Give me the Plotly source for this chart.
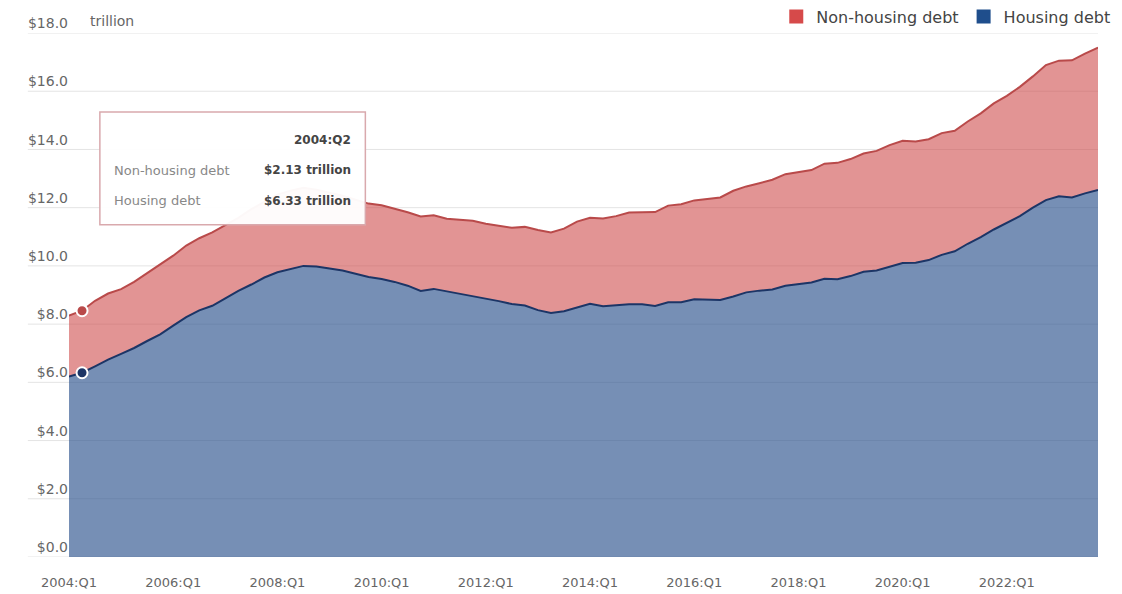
import plotly.graph_objects as go

# ---- data (trillions of dollars) ----
years = list(range(2004, 2024))
quarters = [f"{y}:Q{q}" for y in years for q in range(1, 5)]

housing_debt = [
    6.20, 6.33, 6.55, 6.78,
    6.98, 7.18, 7.42, 7.65,
    7.95, 8.24, 8.47, 8.63,
    8.88, 9.14, 9.36, 9.60,
    9.78, 9.90, 10.00, 9.98,
    9.92, 9.84, 9.73, 9.62,
    9.55, 9.45, 9.32, 9.14,
    9.21, 9.13, 9.03, 8.95,
    8.87, 8.79, 8.69, 8.64,
    8.48, 8.38, 8.44, 8.58,
    8.70, 8.61, 8.65, 8.68,
    8.68, 8.62, 8.75, 8.75,
    8.85, 8.84, 8.83, 8.95,
    9.09, 9.15, 9.19, 9.32,
    9.38, 9.43, 9.56, 9.54,
    9.65, 9.80, 9.84, 9.96,
    10.10, 10.11, 10.20, 10.38,
    10.50, 10.76, 10.99, 11.25,
    11.49, 11.71, 12.00, 12.26,
    12.39, 12.35, 12.49, 12.61,
]

non_housing_debt = [
    2.09, 2.13, 2.25, 2.27,
    2.22, 2.27, 2.33, 2.40,
    2.40, 2.46, 2.48, 2.52,
    2.52, 2.51, 2.59, 2.60,
    2.67, 2.68, 2.68, 2.64,
    2.60, 2.57, 2.54, 2.52,
    2.53, 2.52, 2.52, 2.56,
    2.53, 2.49, 2.55, 2.60,
    2.58, 2.59, 2.62, 2.70,
    2.75, 2.77, 2.84, 2.94,
    2.95, 3.02, 3.06, 3.15,
    3.17, 3.23, 3.32, 3.37,
    3.40, 3.45, 3.52, 3.63,
    3.64, 3.69, 3.77, 3.83,
    3.83, 3.86, 3.95, 4.00,
    4.02, 4.06, 4.11, 4.19,
    4.20, 4.16, 4.15, 4.18,
    4.14, 4.20, 4.25, 4.33,
    4.35, 4.44, 4.51, 4.64,
    4.66, 4.71, 4.80, 4.89,
]

y_ticks = [0, 2, 4, 6, 8, 10, 12, 14, 16, 18]
y_tick_text = [f"${v:.1f}" for v in y_ticks]
x_tick_labels = [f"{y}:Q1" for y in range(2004, 2024, 2)]

hover_index = 1  # 2004:Q2 highlighted point

# ---- styles ----
RED_LINE = "#b94a4a"
RED_FILL = "rgba(205,70,70,0.58)"
BLUE_LINE = "#1c3566"
BLUE_FILL = "rgba(40,80,140,0.64)"
RED_KEY = "#d64a4a"
BLUE_KEY = "#1f4e8c"
FONT = "DejaVu Sans, Verdana, sans-serif"

fig = go.Figure()

fig.add_trace(go.Scatter(
    x=quarters, y=housing_debt, name="Housing debt", stackgroup="debt",
    mode="lines", line=dict(color=BLUE_LINE, width=2), fillcolor=BLUE_FILL,
    showlegend=False, hoverinfo="skip"))
fig.add_trace(go.Scatter(
    x=quarters, y=non_housing_debt, name="Non-housing debt", stackgroup="debt",
    mode="lines", line=dict(color=RED_LINE, width=2), fillcolor=RED_FILL,
    showlegend=False, hoverinfo="skip"))

# highlighted markers
total_at_hover = housing_debt[hover_index] + non_housing_debt[hover_index]
fig.add_trace(go.Scatter(
    x=[quarters[hover_index], quarters[hover_index]],
    y=[housing_debt[hover_index], total_at_hover],
    mode="markers", showlegend=False, hoverinfo="skip",
    marker=dict(size=11, color=[BLUE_LINE, RED_LINE],
                line=dict(color="white", width=2))))

# legend keys
fig.add_trace(go.Scatter(x=[None], y=[None], mode="markers", name="Non-housing debt",
                         marker=dict(symbol="square", size=14, color=RED_KEY)))
fig.add_trace(go.Scatter(x=[None], y=[None], mode="markers", name="Housing debt",
                         marker=dict(symbol="square", size=14, color=BLUE_KEY)))

# gridlines extending under the labels
for v in y_ticks:
    fig.add_shape(type="line", xref="paper", yref="y", x0=-0.04, x1=1, y0=v, y1=v,
                  line=dict(color="#e4e4e4", width=1), layer="below")

# tooltip box
fig.add_shape(type="rect", xref="paper", yref="paper", x0=0.030, x1=0.288, y0=0.634, y1=0.849,
              line=dict(color="#d9a9ad", width=1.5), fillcolor="rgba(255,255,255,0.96)", layer="above")
fig.add_annotation(xref="paper", yref="paper", x=0.276, y=0.796, xanchor="right", yanchor="middle",
                   text=f"<b>{quarters[hover_index]}</b>", showarrow=False,
                   font=dict(family=FONT, size=12, color="#444"))
fig.add_annotation(xref="paper", yref="paper", x=0.042, y=0.738, xanchor="left", yanchor="middle",
                   text="Non-housing debt", showarrow=False, font=dict(family=FONT, size=13, color="#888"))
fig.add_annotation(xref="paper", yref="paper", x=0.276, y=0.738, xanchor="right", yanchor="middle",
                   text=f"<b>${non_housing_debt[hover_index]:.2f} trillion</b>", showarrow=False,
                   font=dict(family=FONT, size=12, color="#444"))
fig.add_annotation(xref="paper", yref="paper", x=0.042, y=0.680, xanchor="left", yanchor="middle",
                   text="Housing debt", showarrow=False, font=dict(family=FONT, size=13, color="#888"))
fig.add_annotation(xref="paper", yref="paper", x=0.276, y=0.680, xanchor="right", yanchor="middle",
                   text=f"<b>${housing_debt[hover_index]:.2f} trillion</b>", showarrow=False,
                   font=dict(family=FONT, size=12, color="#444"))

# unit label next to top tick
fig.add_annotation(xref="paper", yref="y", x=0.018, y=y_ticks[-1], xanchor="left", yanchor="bottom",
                   text="trillion", showarrow=False, yshift=2,
                   font=dict(family=FONT, size=14, color="#666"))

fig.update_layout(
    width=1122, height=594,
    margin=dict(l=69, r=24, t=33, b=37, autoexpand=False),
    paper_bgcolor="white", plot_bgcolor="white",
    font=dict(family=FONT, size=13, color="#666"),
    showlegend=True,
    legend=dict(orientation="h", xref="container", yref="container",
                xanchor="right", x=0.994, yanchor="middle", y=0.972,
                traceorder="normal",
                font=dict(family=FONT, size=16, color="#444"), itemwidth=30,
                bgcolor="rgba(0,0,0,0)"),
    hovermode=False,
)
fig.update_xaxes(
    type="category", range=[0, len(quarters) - 1],
    tickvals=x_tick_labels, ticktext=x_tick_labels,
    showgrid=False, zeroline=False, showline=False, automargin=False,
    ticks="outside", ticklen=13, tickcolor="rgba(0,0,0,0)",
    tickfont=dict(family=FONT, size=13, color="#666"))
fig.update_yaxes(
    range=[0, 18], tickvals=y_ticks, ticktext=y_tick_text,
    showgrid=False, zeroline=False, showline=False, automargin=False,
    ticklabelposition="outside top",
    tickfont=dict(family=FONT, size=14, color="#666"))

fig.write_html("out.html",
               config={"displayModeBar": False},
               post_script="document.body.style.margin='0';document.body.style.padding='0';")
